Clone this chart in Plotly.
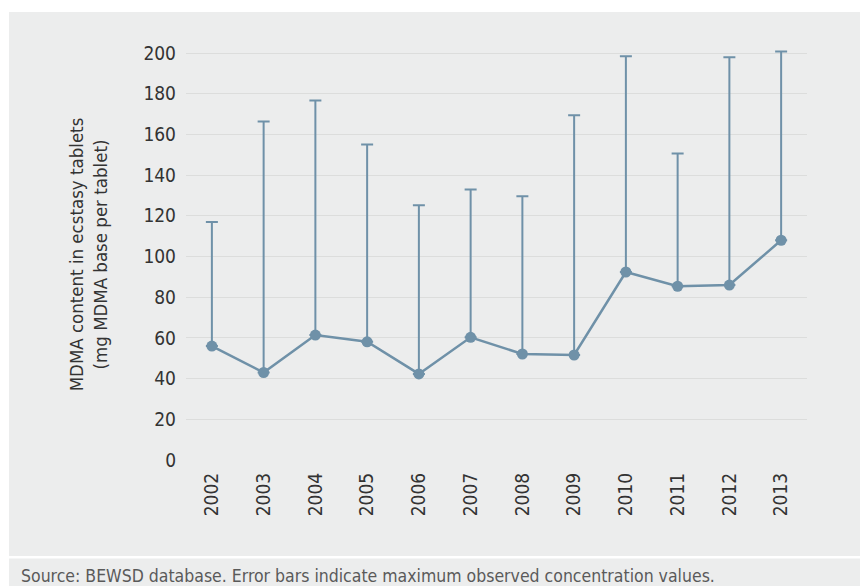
import plotly.graph_objects as go

# data
years = ['2002', '2003', '2004', '2005', '2006', '2007', '2008', '2009', '2010', '2011', '2012', '2013']
mean_mdma = [56, 43, 61.4, 58.1, 42.3, 60.3, 52.1, 51.6, 92.4, 85.4, 86, 108]
max_mdma = [117, 166.4, 176.7, 155.1, 125.2, 133, 129.6, 169.4, 198.4, 150.7, 197.9, 200.8]

err_up = [mx - m for mx, m in zip(max_mdma, mean_mdma)]

FONT = 'Liberation Sans Narrow, DejaVu Sans Condensed, Arial Narrow, sans-serif'
LINE = '#6f91a8'
PANEL = '#eceded'

# the page body adds an 8px margin, so the figure is 8px smaller
OFF = 8
W, H = 868 - OFF, 586 - OFF
YMAX = 202
# reference: x 186..807, y=0 at 460, y=200 at 53
plot_x0, plot_x1 = 186, 807
y0_px = 460
ph = 407 * YMAX / 200
L = plot_x0 - OFF
R = 868 - plot_x1
T = y0_px - ph - OFF
B = 586 - y0_px
pw = plot_x1 - plot_x0


def px(x):
    return (x - plot_x0) / pw


def py(y):
    return (y0_px - y) / ph


fig = go.Figure()

fig.add_trace(go.Scatter(
    x=years, y=mean_mdma, mode='lines+markers',
    line=dict(color=LINE, width=2.5),
    marker=dict(color=LINE, size=11),
    error_y=dict(type='data', symmetric=False, array=err_up,
                 arrayminus=[0] * len(years), color=LINE, thickness=2, width=6),
    showlegend=False,
))

# grey panels behind the chart and the source line
fig.add_shape(type='rect', xref='paper', yref='paper', layer='below',
              x0=px(9), x1=px(880), y0=py(556), y1=py(12),
              fillcolor=PANEL, line_width=0)
fig.add_shape(type='rect', xref='paper', yref='paper', layer='below',
              x0=px(9), x1=px(880), y0=py(600), y1=py(558.5),
              fillcolor=PANEL, line_width=0)

fig.add_annotation(text='Source: BEWSD database. Error bars indicate maximum observed concentration values.',
                   xref='paper', yref='paper', x=px(19), y=py(576),
                   xanchor='left', yanchor='middle', showarrow=False,
                   font=dict(family=FONT, size=17.5, color='#5a5a5a'))

fig.update_layout(
    width=W, height=H,
    margin=dict(l=L, r=R, t=T, b=B, pad=0),
    paper_bgcolor='white', plot_bgcolor='rgba(0,0,0,0)',
    font=dict(family=FONT, size=19, color='#333333'),
    xaxis=dict(type='category', range=[-0.5, 11.5], tickangle=-90,
               showgrid=False, zeroline=False, showline=False, ticks='',
               ticklabelstandoff=8, tickfont=dict(size=19)),
    yaxis=dict(range=[0, YMAX], tickvals=list(range(0, 201, 20)), showgrid=True,
               gridcolor='#dcdddc', gridwidth=1.3, zeroline=False, showline=False,
               ticks='', ticklabelstandoff=9, tickfont=dict(size=19),
               title=dict(text='MDMA content in ecstasy tablets<br>(mg MDMA base per tablet)',
                          font=dict(size=18.5), standoff=30)),
)

fig.write_html('out.html')
